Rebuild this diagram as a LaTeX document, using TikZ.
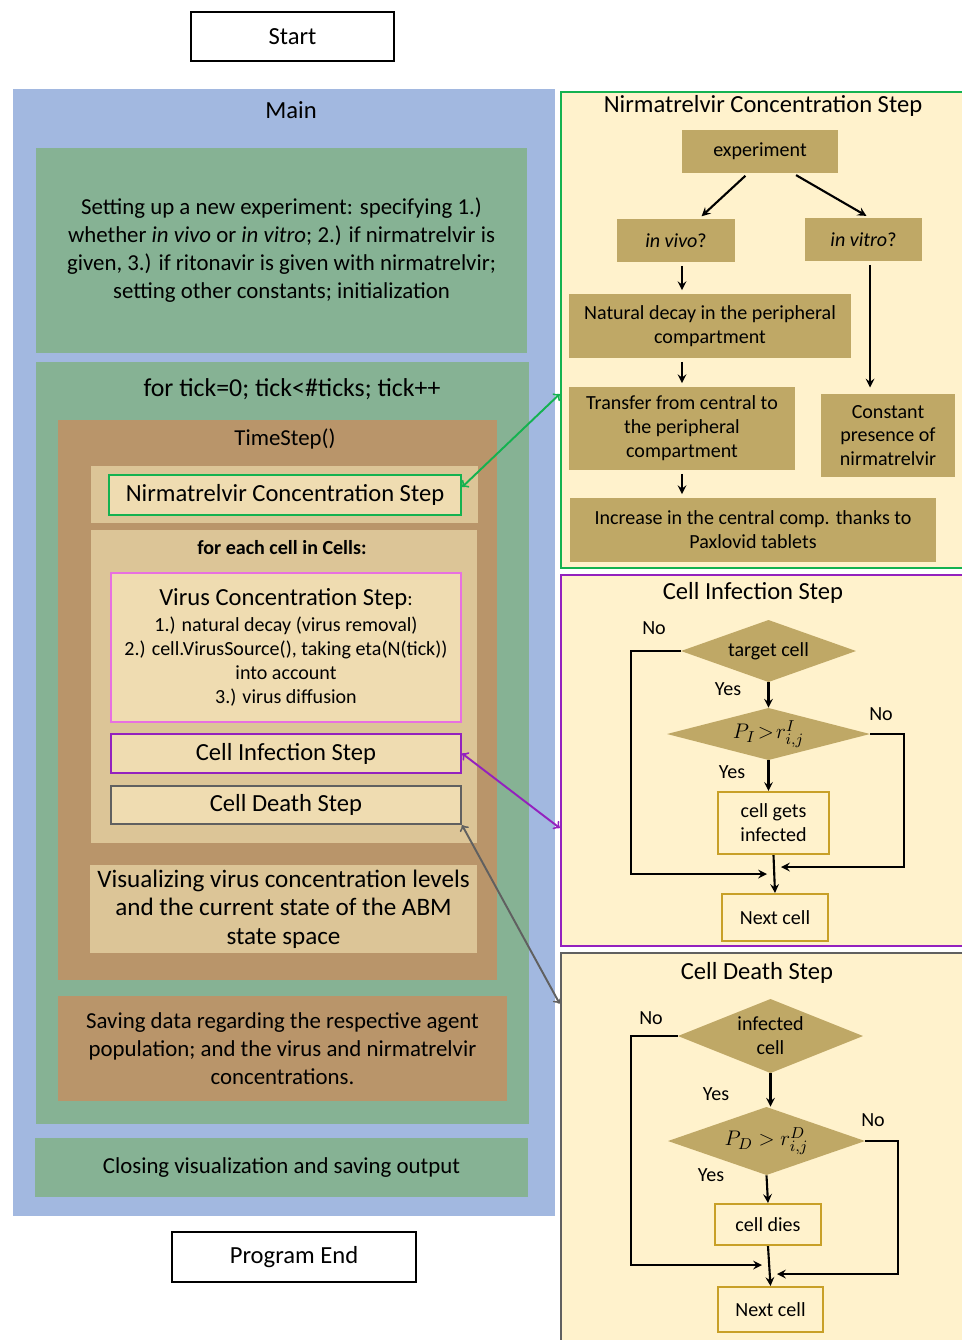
\documentclass[tikz,border=0pt]{standalone}
\usepackage{fontspec}
\setmainfont{Carlito}
\definecolor{mainBlue}{RGB}{162,184,224}
\definecolor{loopGreen}{RGB}{134,178,148}
\definecolor{stepBrown}{RGB}{185,149,106}
\definecolor{bandTan}{RGB}{220,197,151}
\definecolor{innerTan}{RGB}{239,220,177}
\definecolor{panelCream}{RGB}{255,242,204}
\definecolor{oliveBox}{RGB}{191,168,102}
\definecolor{goldLine}{RGB}{200,160,40}
\definecolor{nirmGreen}{RGB}{20,178,80}
\definecolor{infPurple}{RGB}{148,33,190}
\definecolor{virPink}{RGB}{232,112,224}
\definecolor{deathGray}{RGB}{96,96,96}
\newcommand{\titlesize}{\fontsize{14}{17}\selectfont}
\newcommand{\textsize}{\fontsize{13}{15.9}\selectfont}
\newcommand{\notesize}{\fontsize{11.4}{13.6}\selectfont}
\tikzset{
  area/.style={fill=#1, inner sep=0pt, align=center, font=\textsize},
  callbox/.style={draw=#1, fill=innerTan, line width=1.4pt, inner sep=0pt, align=center, font=\titlesize},
  endbox/.style={draw=black, fill=white, line width=0.6pt, inner sep=0pt, font=\titlesize},
  panel/.style={draw=#1, fill=panelCream, line width=1.5pt, inner sep=0pt},
  olive/.style={fill=oliveBox, inner sep=0pt, align=center, font=\notesize},
  result/.style={draw=goldLine, fill=panelCream, line width=1.2pt, inner sep=0pt, align=center, font=\notesize},
  decision/.style={inner sep=0pt, align=center, font=\notesize,
    path picture={\fill[oliveBox] (path picture bounding box.west) -- (path picture bounding box.north)
      -- (path picture bounding box.east) -- (path picture bounding box.south) -- cycle;}},
  flow/.style={-stealth, line width=1.2pt},
  gap/.style={shorten <=2pt, shorten >=2pt},
  link/.style={<->, draw=#1, line width=1.1pt},
  tag/.style={font=\notesize}
}

\begin{document}
\begin{tikzpicture}[x=0.02cm, y=-0.02cm]
  \useasboundingbox (0,0) rectangle (962,1340);

  % left column: program structure
  \node[endbox, minimum width=4.06cm, minimum height=0.98cm] (start) at (292.5,36.5) {Start};
  \node[area=mainBlue, minimum width=10.84cm, minimum height=22.54cm] (main) at (284,652.5) {};
  \node[font=\titlesize] (mainT) at (291,110) {Main};
  \node[area=loopGreen, minimum width=9.82cm, minimum height=4.1cm] (setup) at (281.5,250.5)
    {Setting up a new experiment: specifying 1.)\\
    whether \textit{in vivo} or \textit{in vitro}; 2.) if nirmatrelvir is\\
    given, 3.) if ritonavir is given with nirmatrelvir;\\
    setting other constants; initialization};
  \node[area=loopGreen, minimum width=9.86cm, minimum height=15.24cm] (loop) at (282.5,743) {};
  \node[font=\fontsize{14.7}{17}\selectfont] (loopT) at (292,389) {for tick=0; tick<\#ticks; tick++};
  \node[area=stepBrown, minimum width=8.78cm, minimum height=11.2cm] (tstep) at (277.5,700) {};
  \node[font=\textsize] (tstepT) at (285,439) {TimeStep()};
  \node[area=bandTan, minimum width=7.74cm, minimum height=1.14cm] (nirmBand) at (284.5,494.5) {};
  \node[callbox=nirmGreen, minimum width=7.04cm, minimum height=0.8cm] (nirmStep) at (285,495)
    {Nirmatrelvir Concentration Step};
  \node[area=bandTan, minimum width=7.72cm, minimum height=6.26cm] (cellLoop) at (284,686.5) {};
  \node[font=\notesize\bfseries] (cellLoopT) at (282,548) {for each cell in Cells:};
  \node[callbox=virPink, font=\notesize, line width=1.2pt, minimum width=7cm, minimum height=2.98cm]
    (virus) at (286,647.5)
    {{\titlesize Virus Concentration Step}:\\[1pt]
     1.) natural decay (virus removal)\\
     2.) cell.VirusSource(), taking eta(N(tick))\\
     into account\\
     3.) virus diffusion};
  \node[callbox=infPurple, minimum width=7cm, minimum height=0.78cm] (cellInf) at (286,753.5)
    {Cell Infection Step};
  \node[callbox=deathGray, line width=1.2pt, minimum width=7cm, minimum height=0.76cm] (cellDeath)
    at (286,805) {Cell Death Step};
  \node[area=bandTan, font=\fontsize{14.3}{16.3}\selectfont, minimum width=7.74cm, minimum height=1.76cm]
    (visual) at (283.5,909) {Visualizing virus concentration levels\\
    and the current state of the ABM\\ state space};
  \node[area=stepBrown, minimum width=8.98cm, minimum height=2.1cm] (saving) at (282.5,1048.5)
    {Saving data regarding the respective agent\\
    population; and the virus and nirmatrelvir\\ concentrations.};
  \node[area=loopGreen, minimum width=9.86cm, minimum height=1.18cm] (closing) at (281.5,1167.5)
    {Closing visualization and saving output};
  \node[endbox, minimum width=4.88cm, minimum height=1cm] (progEnd) at (294,1257) {Program End};

  % right column: nirmatrelvir step
  \node[panel=nirmGreen, minimum width=8.28cm, minimum height=9.52cm] (nirmPanel) at (768,330) {};
  \node[font=\titlesize] (nirmPanelT) at (763,106) {Nirmatrelvir Concentration Step};
  \node[olive, minimum width=3.12cm, minimum height=0.86cm] (exp) at (760,151.5) {experiment};
  \node[olive, minimum width=2.36cm, minimum height=0.86cm] (vivo) at (676,240.5) {\textit{in vivo}?};
  \node[olive, minimum width=2.34cm, minimum height=0.86cm] (vitro) at (863.5,239.5) {\textit{in vitro}?};
  \node[olive, minimum width=5.64cm, minimum height=1.28cm] (decay) at (710,326)
    {Natural decay in the peripheral\\ compartment};
  \node[olive, minimum width=4.52cm, minimum height=1.66cm] (transfer) at (682,428.5)
    {Transfer from central to\\ the peripheral\\ compartment};
  \node[olive, minimum width=2.68cm, minimum height=1.66cm] (const) at (888,435.5)
    {Constant\\ presence of\\ nirmatrelvir};
  \node[olive, minimum width=7.32cm, minimum height=1.28cm] (increase) at (753,530)
    {Increase in the central comp. thanks to\\ Paxlovid tablets};
  \coordinate (vitroDrop) at (870,391);
  \draw[flow, gap] ([xshift=-0.24cm]exp.south) -- ([xshift=0.46cm]vivo.north);
  \draw[flow, gap] ([xshift=0.66cm]exp.south) -- ([xshift=0.12cm]vitro.north);
  \draw[flow, gap] (vivo.south -| transfer.north) -- (decay.north -| transfer.north);
  \draw[flow, gap] (decay.south -| transfer.north) -- (transfer.north);
  \draw[flow, gap] (transfer.south) -- (increase.north -| transfer.south);
  \draw[flow, gap] (vitro.south -| vitroDrop) -- (vitroDrop);

  % right column: cell infection step
  \node[panel=infPurple, minimum width=8.28cm, minimum height=7.42cm] (infPanel) at (768,760.5) {};
  \node[font=\titlesize] (infPanelT) at (753,593) {Cell Infection Step};
  \node[decision, minimum width=3.5cm, minimum height=1.24cm] (target) at (768.5,651) {target cell};
  \node[decision, font=\fontsize{12.5}{14}\selectfont, minimum width=4.06cm, minimum height=1.04cm]
    (pI) at (768.5,734) {$P_I \!>\! r^I_{i,j}$};
  \node[result, minimum width=2.22cm, minimum height=1.24cm] (gets) at (773.5,823) {cell gets\\ infected};
  \node[result, minimum width=2.12cm, minimum height=0.94cm] (nextI) at (775,917.5) {Next cell};
  \node[tag] (noI1) at (654,628) {No};
  \node[tag] (yesI1) at (728,689) {Yes};
  \node[tag] (noI2) at (881,714) {No};
  \node[tag] (yesI2) at (732,772) {Yes};
  \coordinate (joinIL) at (767,874);
  \coordinate (joinIR) at (781,867);
  \draw[flow] (target.south) -- (pI.north);
  \draw[flow] (pI.south) -- (pI.south |- gets.north);
  \draw[flow] (gets.south) -- (nextI.north);
  \draw[flow] (target.west) -- ++(-50,0) |- (joinIL);
  \draw[flow] (pI.east) -- ++(34,0) |- (joinIR);

  % right column: cell death step
  \node[panel=deathGray, minimum width=8.28cm, minimum height=7.94cm] (deathPanel) at (768,1151.5) {};
  \node[font=\titlesize] (deathPanelT) at (757,973) {Cell Death Step};
  \node[decision, minimum width=3.7cm, minimum height=1.48cm] (infCell) at (770.5,1036) {infected\\ cell};
  \node[decision, font=\fontsize{12.5}{14}\selectfont, minimum width=3.94cm, minimum height=1.36cm]
    (pD) at (766.5,1141) {$P_D > r^D_{i,j}$};
  \node[result, minimum width=2.12cm, minimum height=0.82cm] (dies) at (768,1224.5) {cell dies};
  \node[result, minimum width=2.1cm, minimum height=0.9cm] (nextD) at (770.5,1309.5) {Next cell};
  \node[tag] (noD1) at (651,1018) {No};
  \node[tag] (yesD1) at (716,1094) {Yes};
  \node[tag] (noD2) at (873,1120) {No};
  \node[tag] (yesD2) at (711,1175) {Yes};
  \coordinate (joinDL) at (762,1265);
  \coordinate (joinDR) at (777,1274);
  \draw[flow] (infCell.south) -- (infCell.south |- pD.north);
  \draw[flow] (pD.south) -- (dies.north);
  \draw[flow] (dies.south) -- (nextD.north);
  \draw[flow] (infCell.west) -- ++(-47,0) |- (joinDL);
  \draw[flow] (pD.east) -- ++(33,0) |- (joinDR);

  % links from the time step to the detail panels
  \draw[link=nirmGreen] ([yshift=0.16cm]nirmStep.east) -- ([yshift=-1.28cm]nirmPanel.west);
  \draw[link=infPurple] (cellInf.east) -- ([yshift=-1.35cm]infPanel.west);
  \draw[link=deathGray] (cellDeath.south east) -- ([yshift=-1.04cm]deathPanel.north west);
\end{tikzpicture}
\end{document}
